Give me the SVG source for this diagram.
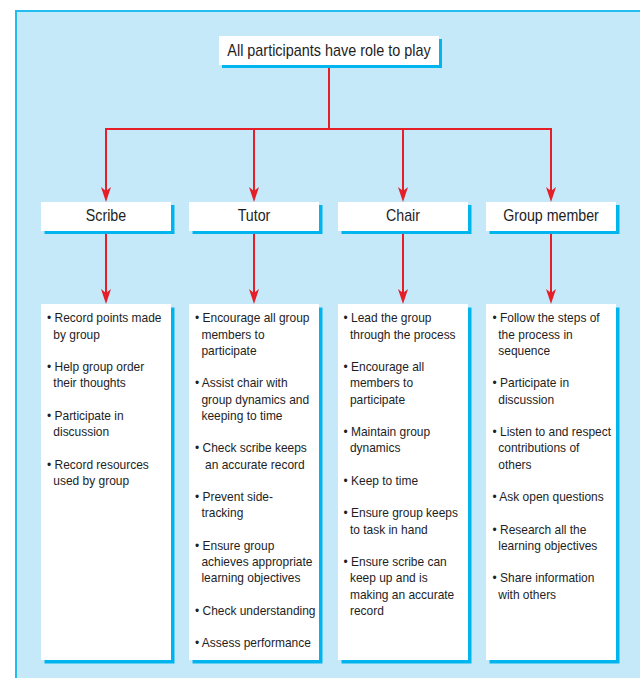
<svg xmlns="http://www.w3.org/2000/svg" width="640" height="678" viewBox="0 0 640 678">
<style>
.bg{fill:#c6e9f9;stroke:#22bcef;stroke-width:2}
.box{fill:#ffffff}
.sh{fill:#00b5ee}
.ttl{font-family:"Liberation Sans",Arial,sans-serif;font-size:16px;fill:#221e1f;text-anchor:middle}
.itm{font-family:"Liberation Sans",Arial,sans-serif;font-size:13px;fill:#221e1f}
.con{fill:none;stroke:#e51f28;stroke-width:2}
</style>
<defs>
<marker id="ah" viewBox="0 0 15 10" refX="9" refY="5" markerWidth="15" markerHeight="10" markerUnits="userSpaceOnUse" orient="auto">
<path d="M0,0 L15,5 L0,10 L4,5 Z" fill="#e51f28"/>
</marker>
</defs>
<rect class="bg" x="16" y="11" width="640" height="680"/>

<g id="connectors">
<path class="con" d="M329,65 V129"/>
<path class="con" d="M106,129 H551" stroke-linecap="square"/>
<path class="con" d="M106,129 V196" marker-end="url(#ah)"/>
<path class="con" d="M254,129 V196" marker-end="url(#ah)"/>
<path class="con" d="M403,129 V196" marker-end="url(#ah)"/>
<path class="con" d="M551,129 V196" marker-end="url(#ah)"/>
<path class="con" d="M106,231 V298" marker-end="url(#ah)"/>
<path class="con" d="M254,231 V298" marker-end="url(#ah)"/>
<path class="con" d="M403,231 V298" marker-end="url(#ah)"/>
<path class="con" d="M551,231 V298" marker-end="url(#ah)"/>
</g>

<g id="root">
<rect class="sh" x="222" y="39" width="220" height="29"/>
<rect class="box" x="219" y="36" width="220" height="29"/>
<text class="ttl" transform="translate(329,55.7) scale(0.9,1)" x="0" y="0">All participants have role to play</text>
</g>

<g id="scribe">
<rect class="sh" x="44.5" y="205" width="130" height="29"/>
<rect class="box" x="41" y="202" width="130" height="29"/>
<text class="ttl" transform="translate(106,221) scale(0.89,1)" x="0" y="0">Scribe</text>
</g>
<g id="tutor">
<rect class="sh" x="192.5" y="205" width="130" height="29"/>
<rect class="box" x="189" y="202" width="130" height="29"/>
<text class="ttl" transform="translate(254,221) scale(0.89,1)" x="0" y="0">Tutor</text>
</g>
<g id="chair">
<rect class="sh" x="341.5" y="205" width="130" height="29"/>
<rect class="box" x="338" y="202" width="130" height="29"/>
<text class="ttl" transform="translate(403,221) scale(0.89,1)" x="0" y="0">Chair</text>
</g>
<g id="group-member">
<rect class="sh" x="489.5" y="205" width="130" height="29"/>
<rect class="box" x="486" y="202" width="130" height="29"/>
<text class="ttl" transform="translate(551,221) scale(0.89,1)" x="0" y="0">Group member</text>
</g>

<g id="scribe-tasks">
<rect class="sh" x="44.5" y="307.5" width="130" height="356"/>
<rect class="box" x="41" y="304" width="130" height="356"/>
<g class="itm" transform="translate(47,0) scale(0.92,1)">
<text x="0" y="322.5">• Record points made</text>
<text x="6.9" y="338.75">by group</text>
<text x="0" y="371.25">• Help group order</text>
<text x="6.9" y="387.5">their thoughts</text>
<text x="0" y="420">• Participate in</text>
<text x="6.9" y="436.25">discussion</text>
<text x="0" y="468.75">• Record resources</text>
<text x="6.9" y="485">used by group</text>
</g>
</g>

<g id="tutor-tasks">
<rect class="sh" x="192.5" y="307.5" width="130" height="356"/>
<rect class="box" x="189" y="304" width="130" height="356"/>
<g class="itm" transform="translate(195,0) scale(0.92,1)">
<text x="0" y="322.5">• Encourage all group</text>
<text x="7" y="338.75">members to</text>
<text x="7" y="355">participate</text>
<text x="0" y="387.5">• Assist chair with</text>
<text x="7" y="403.75">group dynamics and</text>
<text x="7" y="420">keeping to time</text>
<text x="0" y="452.5">• Check scribe keeps</text>
<text x="10.9" y="468.75">an accurate record</text>
<text x="0" y="501.25">• Prevent side-</text>
<text x="7" y="517.5">tracking</text>
<text x="0" y="550">• Ensure group</text>
<text x="7" y="566.25">achieves appropriate</text>
<text x="7" y="582.5">learning objectives</text>
<text x="0" y="615">• Check understanding</text>
<text x="0" y="647.5">• Assess performance</text>
</g>
</g>

<g id="chair-tasks">
<rect class="sh" x="341.5" y="307.5" width="130" height="356"/>
<rect class="box" x="338" y="304" width="130" height="356"/>
<g class="itm" transform="translate(343.5,0) scale(0.92,1)">
<text x="0" y="322.5">• Lead the group</text>
<text x="7" y="338.75">through the process</text>
<text x="0" y="371.25">• Encourage all</text>
<text x="7" y="387.5">members to</text>
<text x="7" y="403.75">participate</text>
<text x="0" y="436.25">• Maintain group</text>
<text x="7" y="452.5">dynamics</text>
<text x="0" y="485">• Keep to time</text>
<text x="0" y="517.5">• Ensure group keeps</text>
<text x="7" y="533.75">to task in hand</text>
<text x="0" y="566.25">• Ensure scribe can</text>
<text x="7" y="582.5">keep up and is</text>
<text x="7" y="598.75">making an accurate</text>
<text x="7" y="615">record</text>
</g>
</g>

<g id="group-member-tasks">
<rect class="sh" x="489.5" y="307.5" width="130" height="356"/>
<rect class="box" x="486" y="304" width="130" height="356"/>
<g class="itm" transform="translate(492.5,0) scale(0.92,1)">
<text x="0" y="322.5">• Follow the steps of</text>
<text x="6.3" y="338.75">the process in</text>
<text x="6.3" y="355">sequence</text>
<text x="0" y="387.5">• Participate in</text>
<text x="6.3" y="403.75">discussion</text>
<text x="0" y="436.25">• Listen to and respect</text>
<text x="6.3" y="452.5">contributions of</text>
<text x="6.3" y="468.75">others</text>
<text x="0" y="501.25">• Ask open questions</text>
<text x="0" y="533.75">• Research all the</text>
<text x="6.3" y="550">learning objectives</text>
<text x="0" y="582.5">• Share information</text>
<text x="6.3" y="598.75">with others</text>
</g>
</g>
</svg>
